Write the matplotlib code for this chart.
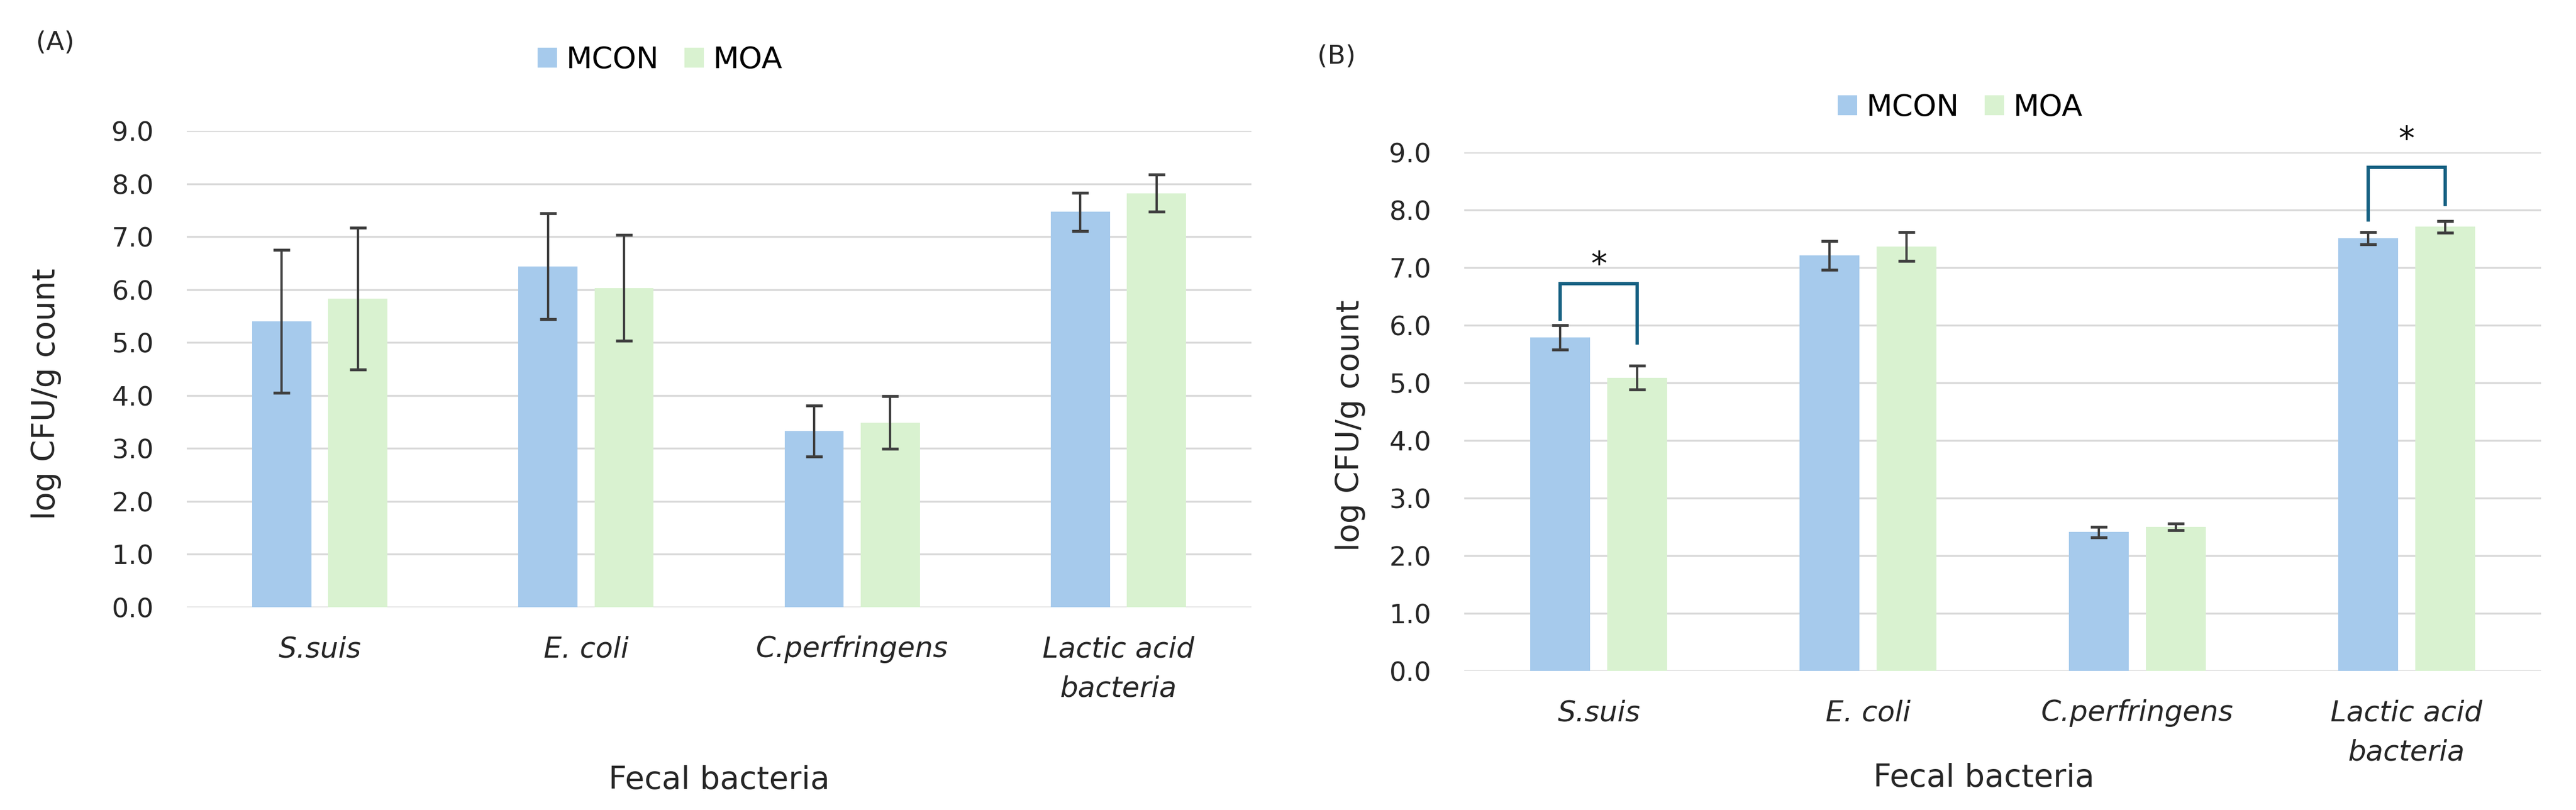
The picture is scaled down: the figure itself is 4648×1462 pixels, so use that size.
import matplotlib
matplotlib.use("Agg")
import matplotlib.pyplot as plt
import numpy as np

# ---------------- data ----------------
categories = ['S.suis', 'E. coli', 'C.perfringens', 'Lactic acid\nbacteria']
series_names = ['MCON', 'MOA']

a_mcon = [5.40, 6.44, 3.33, 7.47]
a_mcon_err = [1.35, 1.00, 0.48, 0.36]
a_moa = [5.83, 6.03, 3.49, 7.82]
a_moa_err = [1.34, 1.00, 0.50, 0.35]

b_mcon = [5.79, 7.21, 2.41, 7.51]
b_mcon_err = [0.21, 0.25, 0.09, 0.11]
b_moa = [5.09, 7.37, 2.50, 7.71]
b_moa_err = [0.21, 0.25, 0.06, 0.10]

# significance brackets in panel B
sig_cats = [0, 3]
sig_left_low = [6.08, 7.80]
sig_top = [6.72, 8.74]
sig_right_low = [5.66, 8.07]
sig_star_y = [7.20, 9.37]
sig_label = ['*', '*']

y_ticks = [0, 1, 2, 3, 4, 5, 6, 7, 8, 9]
y_tick_labels = ['0.0', '1.0', '2.0', '3.0', '4.0', '5.0', '6.0', '7.0', '8.0', '9.0']

# ---------------- style ----------------
W, H = 4648, 1462
C_MCON = '#A6CAEC'
C_MOA = '#D9F2D0'
C_ERR = '#3F3F3F'
C_GRID = '#D9D9D9'
C_BRACKET = '#156082'
C_TEXT = '#262626'

plt.rcParams['font.family'] = ['DejaVu Sans']

fig = plt.figure(figsize=(W / 100, H / 100), dpi=100)
axA = fig.add_axes([337 / W, 366 / H, 1921 / W, 860 / H])
axB = fig.add_axes([2642 / W, 251 / H, 1943 / W, 936 / H])

bw = 0.222
off = 0.143
x = np.arange(len(categories))


def draw_panel(ax, mcon, mcon_err, moa, moa_err):
    for t in y_ticks:
        ax.axhline(t, color=C_GRID, lw=2.5, zorder=0)
    ekw = dict(ecolor=C_ERR, elinewidth=3.0, capsize=11, capthick=3.8)
    ax.bar(x - off, mcon, bw, color=C_MCON, yerr=mcon_err, error_kw=ekw,
           label=series_names[0], zorder=2)
    ax.bar(x + off, moa, bw, color=C_MOA, yerr=moa_err, error_kw=ekw,
           label=series_names[1], zorder=2)
    ax.set_xlim(-0.5, len(categories) - 0.5)
    ax.set_ylim(0, 9)
    ax.set_yticks(y_ticks)
    ax.set_yticklabels(y_tick_labels, fontsize=34.5, color=C_TEXT)
    ax.set_xticks(x)
    ax.set_xticklabels(categories, fontsize=37, fontstyle='italic',
                       color=C_TEXT, linespacing=1.55)
    ax.tick_params(axis='y', length=0, pad=43)
    ax.tick_params(axis='x', length=0, pad=37)
    for s in ax.spines.values():
        s.set_visible(False)
    ax.set_facecolor('none')


draw_panel(axA, a_mcon, a_mcon_err, a_moa, a_moa_err)
draw_panel(axB, b_mcon, b_mcon_err, b_moa, b_moa_err)

# significance brackets
for c, yl, yt, yr, ys, lab in zip(sig_cats, sig_left_low, sig_top,
                                  sig_right_low, sig_star_y, sig_label):
    xl, xr = c - off, c + off
    axB.plot([xl, xl, xr, xr], [yl, yt, yt, yr], color=C_BRACKET, lw=4.3,
             solid_joinstyle='miter', solid_capstyle='butt', clip_on=False,
             zorder=4)
    axB.annotate(lab, xy=(c, ys), xytext=(0, -0.575 * 42),
                 textcoords='offset points', ha='center', va='baseline',
                 fontsize=42, color='#111111', annotation_clip=False)

# legends
lkw = dict(loc='center', ncol=2, frameon=False, fontsize=39,
           handlelength=0.65, handleheight=0.67, handletextpad=0.31,
           columnspacing=0.85, borderaxespad=0, borderpad=0)
hA, lA = axA.get_legend_handles_labels()
fig.legend(hA, lA, bbox_to_anchor=(1191 / W, 1 - 108 / H), **lkw)
hB, lB = axB.get_legend_handles_labels()
fig.legend(hB, lB, bbox_to_anchor=(3537 / W, 1 - 194 / H), **lkw)

# axis titles
fig.text(84 / W, 1 - 711 / H, 'log CFU/g count', rotation=90, ha='center',
         va='center', fontsize=41, color=C_TEXT)
fig.text(2437 / W, 1 - 768 / H, 'log CFU/g count', rotation=90, ha='center',
         va='center', fontsize=41, color=C_TEXT)
fig.text(1297 / W, 1 - 1424 / H, 'Fecal bacteria', ha='center',
         va='baseline', fontsize=41, color=C_TEXT)
fig.text(3580 / W, 1 - 1420 / H, 'Fecal bacteria', ha='center',
         va='baseline', fontsize=41, color=C_TEXT)

# panel letters
fig.text(65 / W, 1 - 77 / H, '(A)', ha='left', va='center', fontsize=34,
         color=C_TEXT)
fig.text(2377 / W, 1 - 102 / H, '(B)', ha='left', va='center', fontsize=34,
         color=C_TEXT)

fig.savefig('out.png', dpi=100, facecolor='white')
